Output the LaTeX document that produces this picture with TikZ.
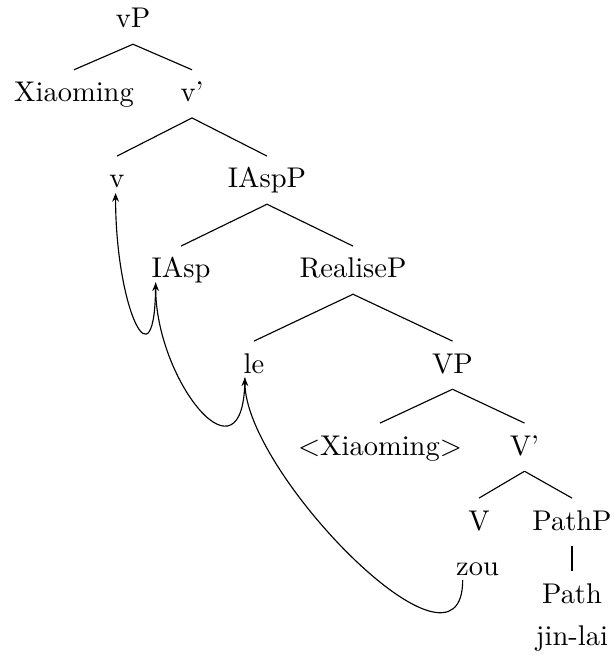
\documentclass[tikz,border=0pt]{standalone}
\usetikzlibrary{arrows.meta}
\tikzset{treenode/.style={anchor=base,inner sep=3pt,text height=8pt,text depth=2.5pt},treeedge/.style={line width=0.4pt},movearr/.style={-{Stealth[length=3pt,width=2.4pt]},line width=0.4pt}}
\begin{document}
\begin{tikzpicture}[x=0.3509pt,y=-0.3509pt]
\useasboundingbox (0,0) rectangle (613,657);
\node[treenode] (littlevp) at (133,28) {vP};
\node[treenode] (xm) at (74,101.7) {Xiaoming};
\node[treenode] (vbar) at (192,101.7) {v'};
\node[treenode] (v) at (117,188) {v};
\node[treenode] (iaspp) at (267,188) {IAspP};
\node[treenode] (iasp) at (181,278) {IAsp};
\node[treenode] (realisep) at (353,278) {RealiseP};
\node[treenode] (le) at (254,373) {le};
\node[treenode] (bigvp) at (452.5,373) {VP};
\node[treenode] (xmtrace) at (380,455) {$<$Xiaoming$>$};
\node[treenode] (bigvbar) at (524.5,455) {V'};
\node[treenode] (bigv) at (479,530) {V};
\node[treenode] (pathp) at (572,530) {PathP};
\node[treenode] (zou) at (477.5,575) {zou};
\node[treenode] (path) at (572,603) {Path};
\node[treenode] (jinlai) at (572,645) {jin-lai};
\foreach \p/\c in {littlevp/xm,littlevp/vbar,vbar/v,vbar/iaspp,iaspp/iasp,iaspp/realisep,realisep/le,realisep/bigvp,bigvp/xmtrace,bigvp/bigvbar,bigvbar/bigv,bigvbar/pathp,pathp/path}
  \draw[treeedge] (\p.south)--(\c.north);
% head movement
\draw[movearr] ([xshift=-5.2pt,yshift=-1.75pt]zou.base) .. controls +(0,116) and +(0,96) .. ([xshift=-3.2pt,yshift=-1.6pt]le.base);
\draw[movearr] ([xshift=-3.2pt,yshift=-1.6pt]le.base) .. controls +(0,114) and +(0,99) .. ([xshift=-8.9pt,yshift=-1.6pt]iasp.base);
\draw[movearr] ([xshift=-8.9pt,yshift=-1.6pt]iasp.base) .. controls +(0,110) and +(0,116) .. ([xshift=-0.5pt,yshift=-1.8pt]v.base);
\end{tikzpicture}
\end{document}
